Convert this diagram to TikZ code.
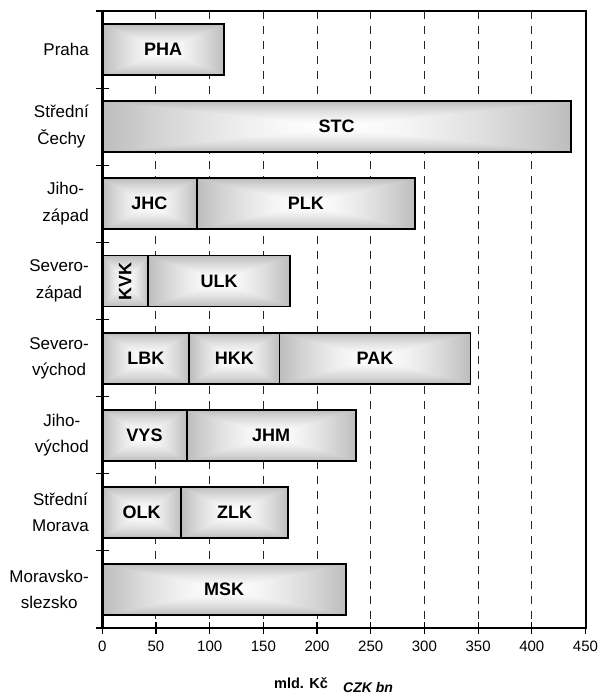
\documentclass[tikz,border=0pt]{standalone}
\usepackage{fontspec}
\usepackage{graphicx}
\setmainfont{Liberation Sans}
\pgfdeclarefunctionalshading{rectgrad}{\pgfpoint{-50bp}{-50bp}}{\pgfpoint{50bp}{50bp}}{}{
  abs exch abs 2 copy sub abs add add 2 div 25 div dup 1 sub abs neg 1 add add 2 div 1.5 exp 0.26 mul 1 exch sub dup dup
}
\tikzset{
  seg/.style={draw=black, line width=1.8pt, shade, shading=rectgrad, inner sep=0pt,
    minimum height=51pt, font=\bfseries\fontsize{18}{20}\selectfont},
  grid/.style={line width=1pt, dash pattern=on 8pt off 7pt, black!85},
  frame/.style={line width=2.5pt, black},
  tickmark/.style={line width=1.2pt, black},
  ticklab/.style={inner sep=0pt, font=\fontsize{15}{17}\selectfont},
  catlab/.style={inner sep=0pt, align=center, font=\fontsize{17}{26.5}\selectfont},
  unitlab/.style={inner sep=0pt, font=\bfseries\fontsize{14.5}{16}\selectfont},
}
\newcommand\seg[5]{%
  \pgfmathsetmacro\segx{102.3+1.0737*(#3+#4)/2}%
  \pgfmathsetmacro\segw{1.0737*(#4-#3)}%
  \node[seg, minimum width=\segw pt] (#1) at (\segx,#2) {#5};%
}
\begin{document}
\begin{tikzpicture}[x=1pt,y=-1pt]
\useasboundingbox (0,0) rectangle (611,698);
% grid lines
\foreach \v in {50,100,...,400}{
  \draw[grid] ({102.3+1.0737*\v},11) -- ({102.3+1.0737*\v},628);
}
% bars
\seg{pha}{49.6}{0}{113.3}{PHA}
\seg{stc}{126.7}{0}{436.3}{STC}
\seg{jhc}{203.8}{0}{87.9}{JHC}
\seg{plk}{203.8}{87.9}{291.2}{PLK}
\seg{kvk}{281.0}{0}{42.8}{\rotatebox{90}{KVK}}
\seg{ulk}{281.0}{42.8}{174.8}{ULK}
\seg{lbk}{358.1}{0}{81}{LBK}
\seg{hkk}{358.1}{81}{165}{HKK}
\seg{pak}{358.1}{165}{343}{PAK}
\seg{vys}{435.2}{0}{78.6}{VYS}
\seg{jhm}{435.2}{78.6}{236}{JHM}
\seg{olk}{512.3}{0}{73.3}{OLK}
\seg{zlk}{512.3}{73.3}{173.3}{ZLK}
\seg{msk}{589.4}{0}{226.7}{MSK}
% frame
\draw[frame] (102.3,11) rectangle (586,628);
% left ticks
\foreach \k in {0,...,8}{
  \draw[tickmark] (96,{11+77.125*\k}) -- (109,{11+77.125*\k});
}
% bottom ticks and labels
\foreach \v in {0,50,...,450}{
  \draw[tickmark] ({102.3+1.0737*\v},622) -- ({102.3+1.0737*\v},634);
  \node[ticklab, anchor=base] (t\v) at ({102.3+1.0737*\v},651) {\v};
}
% category labels
\node[catlab, anchor=east] (c0) at (89,49.6) {Praha};
\node[catlab, anchor=east] (c1) at (89,126.7) {Střední\\Čechy};
\node[catlab, anchor=east] (c2) at (89,203.8) {Jiho-\\západ};
\node[catlab, anchor=east] (c3) at (89,281.0) {Severo-\\západ};
\node[catlab, anchor=east] (c4) at (89,358.1) {Severo-\\východ};
\node[catlab, anchor=east] (c5) at (89,435.2) {Jiho-\\východ};
\node[catlab, anchor=east] (c6) at (89,512.3) {Střední\\Morava};
\node[catlab, anchor=east] (c7) at (89,589.4) {Moravsko-\\slezsko};
% axis titles
\node[unitlab, anchor=base west] (u1) at (274,688) {mld. Kč};
\node[unitlab, anchor=base west, font=\bfseries\itshape\fontsize{14}{16}\selectfont] (u2) at (343,692) {CZK bn};
\end{tikzpicture}
\end{document}
